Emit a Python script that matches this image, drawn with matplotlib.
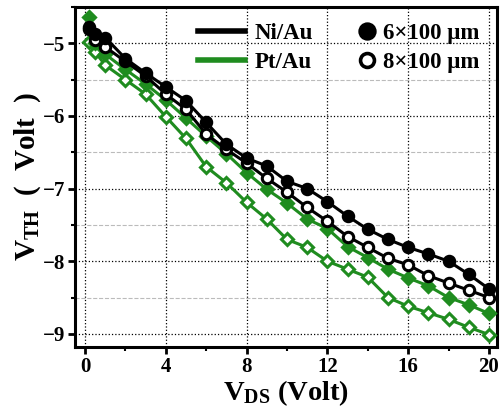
import numpy as np
import matplotlib
matplotlib.use('Agg')
import matplotlib.pyplot as plt
from matplotlib.lines import Line2D

plt.rcParams['font.family'] = ['Liberation Serif', 'DejaVu Serif']
plt.rcParams['font.weight'] = 'bold'
plt.rcParams['mathtext.fontset'] = 'custom'
plt.rcParams['mathtext.rm'] = 'Liberation Serif:bold'
plt.rcParams['mathtext.bf'] = 'Liberation Serif:bold'
plt.rcParams['mathtext.it'] = 'Liberation Serif:bold'

# drain voltage steps (V)
vds = [0.2, 0.5, 1, 2, 3, 4, 5, 6, 7, 8, 9, 10, 11, 12, 13, 14, 15, 16, 17, 18, 19, 20]

# threshold voltage (V)
niau_6 = [-4.78, -4.87, -4.92, -5.21, -5.41, -5.60, -5.79, -6.09, -6.39, -6.58, -6.69,
          -6.90, -7.00, -7.18, -7.38, -7.56, -7.70, -7.81, -7.90, -8.00, -8.18, -8.38]
niau_8 = [-4.80, -4.95, -5.05, -5.25, -5.45, -5.70, -5.91, -6.25, -6.46, -6.65, -6.86,
          -7.05, -7.26, -7.45, -7.66, -7.81, -7.96, -8.05, -8.20, -8.30, -8.40, -8.50]
ptau_6 = [-4.64, -5.00, -5.15, -5.36, -5.56, -5.78, -6.03, -6.28, -6.52, -6.78, -7.01,
          -7.20, -7.42, -7.55, -7.80, -7.95, -8.11, -8.23, -8.34, -8.50, -8.60, -8.72]
ptau_8 = [-4.98, -5.12, -5.30, -5.50, -5.70, -6.01, -6.31, -6.70, -6.92, -7.19, -7.42,
          -7.70, -7.81, -8.00, -8.11, -8.22, -8.50, -8.62, -8.71, -8.80, -8.91, -9.01]

green = '#1f8c1f'

fig = plt.figure(figsize=(5.03, 4.12), dpi=100)
ax = fig.add_axes([0.149, 0.158, 0.839, 0.825])

ax.plot(vds, ptau_8, color=green, lw=2.2, marker='D', ms=6.5, mfc='white', mec=green, mew=2.2, zorder=3)
ax.plot(vds, ptau_6, color=green, lw=2.2, marker='D', ms=6.5, mfc=green, mec=green, mew=2.2, zorder=3)
ax.plot(vds, niau_8, color='black', lw=2.2, marker='o', ms=7.5, mfc='white', mec='black', mew=2.2, zorder=4)
ax.plot(vds, niau_6, color='black', lw=2.2, marker='o', ms=7.5, mfc='black', mec='black', mew=2.2, zorder=4)

ax.set_xlim(-0.5, 20.4)
ax.set_ylim(-9.18, -4.5)
ax.set_xticks([0, 4, 8, 12, 16, 20])
ax.set_xticks([2, 6, 10, 14, 18], minor=True)
ax.set_yticks([-9, -8, -7, -6, -5])
ax.set_yticks([-8.5, -7.5, -6.5, -5.5, -4.5], minor=True)

ax.grid(True, which='major', color='black', ls=':', lw=0.9)
ax.grid(True, which='minor', axis='y', color='#bbbbbb', ls='--', lw=0.8)
ax.set_axisbelow(True)

for s in ax.spines.values():
    s.set_linewidth(2.2)
ax.tick_params(which='major', direction='out', length=5, width=2, labelsize=15, pad=2)
ax.tick_params(which='minor', direction='out', length=3, width=1.5)
for lab in ax.get_xticklabels() + ax.get_yticklabels():
    lab.set_fontweight('bold')

ax.set_xlabel(r'V$_{\mathrm{DS}}$ (Volt)', fontsize=20.5, fontweight='bold', labelpad=1)
ax.set_ylabel(r'V$_{\mathrm{TH}}$  (  Volt  )', fontsize=21, fontweight='bold', labelpad=0)

h1 = [Line2D([], [], color='black', lw=4), Line2D([], [], color=green, lw=4)]
leg1 = ax.legend(h1, ['Ni/Au', 'Pt/Au'], loc='upper left', bbox_to_anchor=(0.291, 0.953),
                 frameon=False, handlelength=2.05, handletextpad=0.44,
                 labelspacing=0.35, borderpad=0, borderaxespad=0,
                 prop={'weight': 'bold', 'size': 16.5})
ax.add_artist(leg1)
h2 = [Line2D([], [], ls='none', marker='o', ms=11, mfc='black', mec='black', mew=2.2),
      Line2D([], [], ls='none', marker='o', ms=10, mfc='white', mec='black', mew=2.6)]
ax.legend(h2, ['6\u00d7100 \u03bcm', '8\u00d7100 \u03bcm'], loc='upper left',
          bbox_to_anchor=(0.665, 0.953), frameon=False, handlelength=1.0,
          handletextpad=0.2, labelspacing=0.35, borderpad=0, borderaxespad=0,
          prop={'weight': 'bold', 'size': 16.5})

fig.savefig('out.png', dpi=100)
